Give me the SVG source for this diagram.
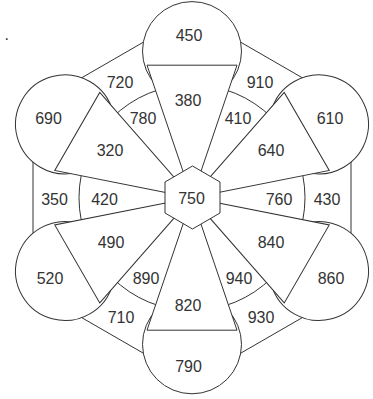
<svg xmlns="http://www.w3.org/2000/svg" width="373" height="399" viewBox="0 0 373 399">
<style>
.ln{fill:none;stroke:#333;stroke-width:1}
.pc{fill:#fff;stroke:#333;stroke-width:1}
text{font-family:"Liberation Sans",Arial,sans-serif;font-size:16px;fill:#333;text-anchor:middle}
</style>
<defs>
<g id="petal">
<circle class="pc" cx="192" cy="51.1" r="49.5"/>
<polygon class="pc" points="192,197.7 147,65.2 237,65.2"/>
</g>
</defs>
<rect width="373" height="399" fill="#fff"/>
<text x="4.5" y="40" style="text-anchor:start">.</text>
<g id="frame">
<polygon id="outer-hexagon" class="ln" points="192,14.1 351,105.9 351,289.5 192,381.3 33,289.5 33,105.9"/>
<circle id="inner-circle" class="ln" cx="192" cy="197.7" r="113"/>
</g>
<g id="petal-top"><use href="#petal"/></g>
<g id="petal-upper-right"><use href="#petal" transform="rotate(60 192 197.7)"/></g>
<g id="petal-lower-right"><use href="#petal" transform="rotate(120 192 197.7)"/></g>
<g id="petal-bottom"><use href="#petal" transform="rotate(180 192 197.7)"/></g>
<g id="petal-lower-left"><use href="#petal" transform="rotate(240 192 197.7)"/></g>
<g id="petal-upper-left"><use href="#petal" transform="rotate(300 192 197.7)"/></g>
<g id="center"><polygon class="pc" points="192.5,166 220,182 220,213 192.5,229 165,213 165,182"/></g>
<g id="labels">
<text x="189" y="40.5">450</text>
<text x="188" y="105.5">380</text>
<text x="120" y="87.5">720</text>
<text x="143" y="124">780</text>
<text x="48.5" y="124">690</text>
<text x="110" y="156">320</text>
<text x="260" y="87.5">910</text>
<text x="238" y="124">410</text>
<text x="330" y="124">610</text>
<text x="271" y="156">640</text>
<text x="54.5" y="205">350</text>
<text x="104.5" y="205">420</text>
<text x="279" y="205">760</text>
<text x="327" y="205">430</text>
<text x="191.5" y="203.5">750</text>
<text x="111" y="248">490</text>
<text x="50" y="284">520</text>
<text x="146" y="284">890</text>
<text x="121" y="323">710</text>
<text x="188" y="311">820</text>
<text x="271" y="248">840</text>
<text x="331" y="284">860</text>
<text x="239" y="284">940</text>
<text x="261" y="323">930</text>
<text x="188.5" y="371.5">790</text>
</g>
</svg>
